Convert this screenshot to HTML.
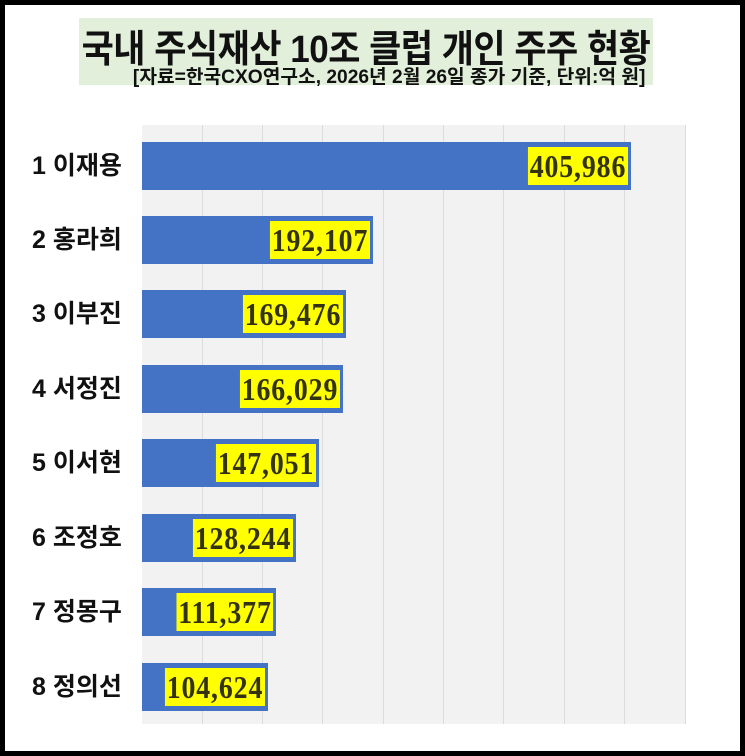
<!DOCTYPE html>
<html><head><meta charset="utf-8"><style>
body{margin:0;width:745px;height:756px;overflow:hidden;background:#fff}
.frame{position:absolute;left:0;top:0;width:735px;height:746px;border:5px solid #000;background:#fff}
.tb{position:absolute;left:79px;top:18px;width:574px;height:67px;background:#e2efda}
.t1{position:absolute;left:0;width:574px;top:1px;text-align:center;font:bold 35px "Liberation Sans","Noto Sans CJK KR",sans-serif;color:#111;letter-spacing:-0.5px;transform:scaleY(1.08);transform-origin:top;white-space:nowrap}
.t2{position:absolute;right:8px;top:44px;font:bold 19px "Liberation Sans","Noto Sans CJK KR",sans-serif;color:#111;transform:scaleX(1.01);transform-origin:right;white-space:nowrap}
.plot{position:absolute;left:142px;top:125px;width:543px;height:599px;background:#f2f2f2}
.g{position:absolute;top:125px;height:599px;width:1px;background:#dcdcdc}
.bar{position:absolute;left:142px;height:48px;background:#4472c4}
.v{position:absolute;height:38px;top:5px;right:3px;background:#ffff00;font:bold 32px "Liberation Serif","DejaVu Serif",serif;color:#333311;line-height:38px;padding:0 2px;transform:scaleX(0.87);transform-origin:right;letter-spacing:1px;white-space:nowrap}
.lb{position:absolute;left:32px;font:bold 25px "Liberation Sans","Noto Sans CJK KR",sans-serif;color:#111;line-height:48px}
</style></head><body>
<div class="frame"></div>
<div class="tb"><div class="t1">국내 주식재산 10조 클럽 개인 주주 현황</div><div class="t2">[자료=한국CXO연구소, 2026년 2월 26일 종가 기준, 단위:억 원]</div></div>
<div class="plot"></div>
<div class="g" style="left:202px"></div><div class="g" style="left:262px"></div><div class="g" style="left:322px"></div><div class="g" style="left:383px"></div><div class="g" style="left:443px"></div><div class="g" style="left:503px"></div><div class="g" style="left:564px"></div><div class="g" style="left:624px"></div><div class="g" style="left:685px"></div>
<div class="lb" style="top:142px">1 이재용</div><div class="bar" style="top:142px;width:489px"><div class="v">405,986</div></div>
<div class="lb" style="top:216px">2 홍라희</div><div class="bar" style="top:216px;width:231px"><div class="v">192,107</div></div>
<div class="lb" style="top:290px">3 이부진</div><div class="bar" style="top:290px;width:204px"><div class="v">169,476</div></div>
<div class="lb" style="top:365px">4 서정진</div><div class="bar" style="top:365px;width:201px"><div class="v">166,029</div></div>
<div class="lb" style="top:439px">5 이서현</div><div class="bar" style="top:439px;width:177px"><div class="v">147,051</div></div>
<div class="lb" style="top:514px">6 조정호</div><div class="bar" style="top:514px;width:154px"><div class="v">128,244</div></div>
<div class="lb" style="top:588px">7 정몽구</div><div class="bar" style="top:588px;width:134px"><div class="v">111,377</div></div>
<div class="lb" style="top:663px">8 정의선</div><div class="bar" style="top:663px;width:126px"><div class="v">104,624</div></div>
</body></html>
